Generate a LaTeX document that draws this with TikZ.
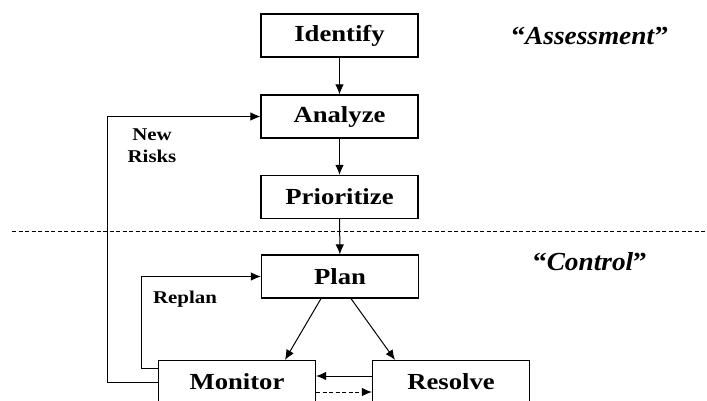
\documentclass[tikz,border=0pt]{standalone}
\usepackage{fontspec}
\setmainfont{Liberation Serif}
\newfontfamily\boxfont[FakeStretch=1.16]{Liberation Serif}
\newfontfamily\phasefont[FakeStretch=1.05]{Liberation Serif}
\usetikzlibrary{arrows.meta}
\tikzset{
  stage/.style={draw, line width=1.2pt, minimum width=157pt, minimum height=43pt,
    inner sep=0pt, font=\boxfont\bfseries\fontsize{23}{25}\selectfont},
  flow/.style={line width=1pt, -{Latex[length=10pt,width=8.5pt]}},
  looplabel/.style={font=\boxfont\bfseries\fontsize{18}{22}\selectfont, align=center},
  phase/.style={font=\phasefont\bfseries\fontsize{26}{28}\selectfont},
}
\begin{document}
\begin{tikzpicture}[x=1pt, y=-1pt]
\useasboundingbox (0,0) rectangle (707,400);

% process stages
\node[stage] (identify)   at (339.5,35.5)  {Identify};
\node[stage] (analyze)    at (339.5,116.5) {Analyze};
\node[stage] (prioritize) at (339.5,197)   {Prioritize};
\node[stage] (plan)       at (340,276.5)   {Plan};
\node[stage] (monitor)    at (237,382)     {Monitor};
\node[stage] (resolve)    at (451,382)     {Resolve};

% boundary between the two phases
\coordinate (divL) at (12,231);
\coordinate (divR) at (707,231);
\draw[dashed, line width=0.9pt, dash pattern=on 4pt off 2.5pt] (divL) -- (divR);

% phase titles
\node[phase] (assess)  at (590,36)  {“\textit{Assessment}”};
\node[phase] (control) at (590,262) {“\textit{Control}”};

% main flow
\draw[flow] (identify) -- (analyze);
\draw[flow] (analyze) -- (prioritize);
\draw[flow] (prioritize) -- (plan);
\draw[flow] ([xshift=-19pt]plan.south) -- ([xshift=48pt]monitor.north);
\draw[flow] ([xshift=11pt]plan.south) -- ([xshift=-56pt]resolve.north);

% monitor / resolve exchange
\draw[flow] ([yshift=6pt]resolve.west) -- ([yshift=6pt]monitor.east);
\draw[flow, dashed, dash pattern=on 4pt off 2.5pt] ([yshift=-10pt]monitor.east) -- ([yshift=-10pt]resolve.west);

% feedback loops
\draw[flow] (monitor.west) -- ++(-50,0) |- (analyze.west);
\draw[flow] ([yshift=14pt]monitor.west) -- ++(-16,0) |- (plan.west);

\node[looplabel] (newrisks) at (152,146) {New\\Risks};
\node[looplabel] (replan) at (185,299) {Replan};
\end{tikzpicture}
\end{document}
